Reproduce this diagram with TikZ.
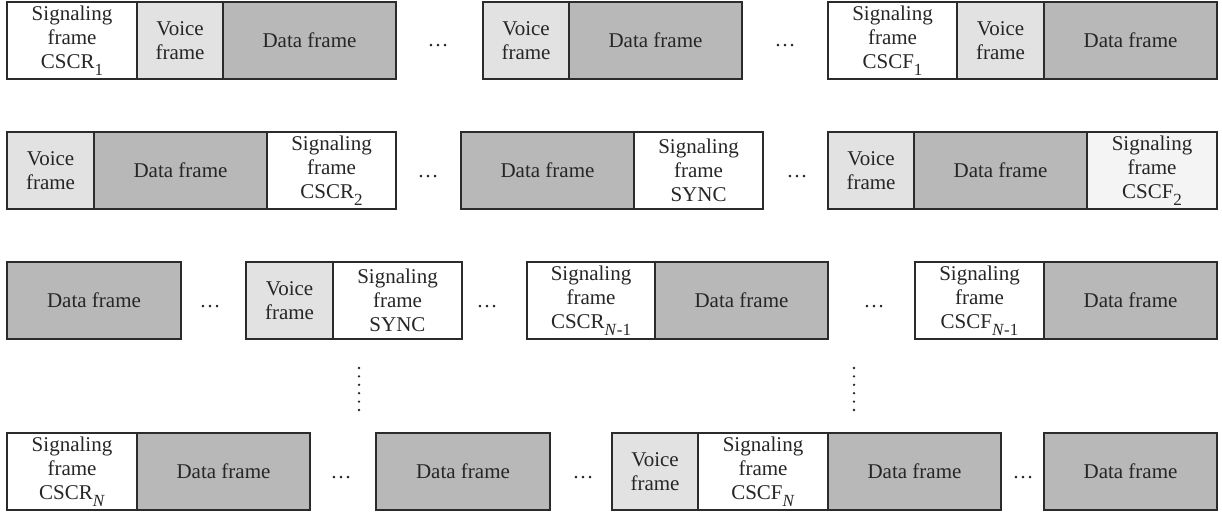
\documentclass[tikz,border=0pt]{standalone}
\usepackage{fontspec}
\setmainfont{Liberation Serif}
\newcommand\mysub[1]{\raisebox{-6.5pt}{\fontsize{17}{17}\selectfont #1}}
\definecolor{bordc}{HTML}{2B2B2B}
\definecolor{voicec}{HTML}{E2E2E2}
\definecolor{datac}{HTML}{B8B8B8}
\definecolor{sigc}{HTML}{FFFFFF}
\definecolor{sigl}{HTML}{F4F4F4}
\tikzset{
  cell/.style={draw=bordc, line width=1.2pt, inner sep=0pt, outer sep=0pt,
    anchor=north west, minimum height=77pt, align=center,
    font=\fontsize{21}{24}\selectfont, text=black!85},
  sigbox/.style={cell, fill=sigc},
  sigboxl/.style={cell, fill=sigl},
  voicebox/.style={cell, fill=voicec},
  databox/.style={cell, fill=datac},
  hdots/.style={anchor=base, inner sep=0pt, font=\fontsize{21}{21}\selectfont, text=black!85},
  vdot/.style={fill=black!85, circle, inner sep=0pt, minimum size=2.6pt}
}
\begin{document}
\begin{tikzpicture}[x=1pt,y=-1pt]
\useasboundingbox (0,0) rectangle (1222,516);
% Row 1
\node[sigbox, minimum width=130pt] (r1s1) at (7,2) {Signaling\\frame\\CSCR\mysub{1}};
\node[voicebox, minimum width=86pt] (r1v1) at (137,2) {Voice\\frame};
\node[databox, minimum width=173pt] (r1d1) at (223,2) {Data frame};
\node[hdots] (r1e1) at (438,47) {\ldots};
\node[voicebox, minimum width=86pt] (r1v2) at (483,2) {Voice\\frame};
\node[databox, minimum width=173pt] (r1d2) at (569,2) {Data frame};
\node[hdots] (r1e2) at (785,47) {\ldots};
\node[sigbox, minimum width=129pt] (r1s2) at (828,2) {Signaling\\frame\\CSCF\mysub{1}};
\node[voicebox, minimum width=87pt] (r1v3) at (957,2) {Voice\\frame};
\node[databox, minimum width=173pt] (r1d3) at (1044,2) {Data frame};
% Row 2
\node[voicebox, minimum width=87pt] (r2v1) at (7,132) {Voice\\frame};
\node[databox, minimum width=173pt] (r2d1) at (94,132) {Data frame};
\node[sigbox, minimum width=129pt] (r2s1) at (267,132) {Signaling\\frame\\CSCR\mysub{2}};
\node[hdots] (r2e1) at (428,177) {\ldots};
\node[databox, minimum width=173pt] (r2d2) at (461,132) {Data frame};
\node[sigbox, minimum width=129pt] (r2s2) at (634,132) {Signaling\\frame\\SYNC};
\node[hdots] (r2e2) at (797,177) {\ldots};
\node[voicebox, minimum width=86pt] (r2v2) at (828,132) {Voice\\frame};
\node[databox, minimum width=173pt] (r2d3) at (914,132) {Data frame};
\node[sigboxl, minimum width=130pt] (r2s3) at (1087,132) {Signaling\\frame\\CSCF\mysub{2}};
% Row 3
\node[databox, minimum width=174pt] (r3d1) at (7,262) {Data frame};
\node[hdots] (r3e1) at (210,307) {\ldots};
\node[voicebox, minimum width=87pt] (r3v1) at (246,262) {Voice\\frame};
\node[sigbox, minimum width=129pt] (r3s1) at (333,262) {Signaling\\frame\\SYNC};
\node[hdots] (r3e2) at (487,307) {\ldots};
\node[sigbox, minimum width=128pt] (r3s2) at (527,262) {Signaling\\frame\\CSCR\mysub{\textit{N}-1}};
\node[databox, minimum width=173pt] (r3d2) at (655,262) {Data frame};
\node[hdots] (r3e3) at (874,307) {\ldots};
\node[sigbox, minimum width=129pt] (r3s3) at (915,262) {Signaling\\frame\\CSCF\mysub{\textit{N}-1}};
\node[databox, minimum width=173pt] (r3d3) at (1044,262) {Data frame};
% Vertical dots
\foreach \k in {0,...,5} {
  \node[vdot] (va\k) at (359,{368+8.4*\k}) {};
  \node[vdot] (vb\k) at (854,{368+8.4*\k}) {};
}
% Row 5
\node[sigbox, minimum width=130pt] (r5s1) at (7,433) {Signaling\\frame\\CSCR\mysub{\textit{N}}};
\node[databox, minimum width=173pt] (r5d1) at (137,433) {Data frame};
\node[hdots] (r5e1) at (341,478) {\ldots};
\node[databox, minimum width=174pt] (r5d2) at (376,433) {Data frame};
\node[hdots] (r5e2) at (583,478) {\ldots};
\node[voicebox, minimum width=86pt] (r5v1) at (612,433) {Voice\\frame};
\node[sigbox, minimum width=130pt] (r5s2) at (698,433) {Signaling\\frame\\CSCF\mysub{\textit{N}}};
\node[databox, minimum width=173pt] (r5d3) at (828,433) {Data frame};
\node[hdots] (r5e3) at (1023,478) {\ldots};
\node[databox, minimum width=173pt] (r5d4) at (1044,433) {Data frame};
\end{tikzpicture}
\end{document}
